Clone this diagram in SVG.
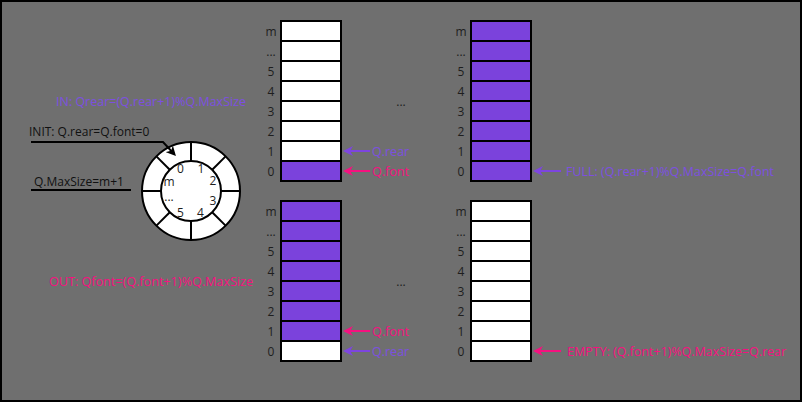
<svg xmlns="http://www.w3.org/2000/svg" width="802" height="402" viewBox="0 0 802 402">
<defs>
<style>
text{font-family:"Open Sans","Noto Sans","DejaVu Sans",sans-serif;font-size:12px}
.lbl{fill:#1e1e1e;text-anchor:middle}
.blk{fill:#111}
.pur{fill:#7d4fe0}
.pnk{fill:#f5117f}
.big{font-size:12.5px}
.w{fill:#fff;stroke:#000;stroke-width:2}
.p{fill:#7b42dc;stroke:#000;stroke-width:2}
.ln{fill:none;stroke-width:2}
</style>
<marker id="mp" viewBox="0 0 10 10" refX="7" refY="5" markerWidth="10" markerHeight="10" markerUnits="userSpaceOnUse" orient="auto"><path d="M0,0 L10,5 L0,10 L3,5 Z" fill="#7d45e0"/></marker>
<marker id="mk" viewBox="0 0 10 10" refX="7" refY="5" markerWidth="10" markerHeight="10" markerUnits="userSpaceOnUse" orient="auto"><path d="M0,0 L10,5 L0,10 L3,5 Z" fill="#f5117f"/></marker>
<marker id="mb" viewBox="0 0 10 10" refX="7" refY="5" markerWidth="10" markerHeight="10" markerUnits="userSpaceOnUse" orient="auto"><path d="M0,0 L10,5 L0,10 L3,5 Z" fill="#000"/></marker>
</defs>
<rect x="1" y="1" width="800" height="400" fill="#6f6f6f" stroke="#000" stroke-width="2"/>

<g id="texts">
<text x="56" y="106" class="pur big" textLength="190" lengthAdjust="spacingAndGlyphs">IN: Qrear=(Q.rear+1)%Q.MaxSize</text>
<text x="29" y="136" class="blk">INIT: Q.rear=Q.font=0</text>
<text x="34" y="186" class="blk">Q.MaxSize=m+1</text>
<text x="49" y="286" class="pnk big" textLength="204" lengthAdjust="spacingAndGlyphs">OUT: Qfont=(Q.font+1)%Q.MaxSize</text>
<text x="401" y="106" class="lbl">...</text>
<text x="401" y="286" class="lbl">...</text>
</g>

<g id="ring">
<circle cx="191" cy="191" r="49" class="w"/>
<circle cx="191" cy="191" r="30" class="w"/>
<g stroke="#000" stroke-width="2">
<line x1="221" y1="191" x2="240" y2="191"/>
<line x1="191" y1="221" x2="191" y2="240"/>
<line x1="161" y1="191" x2="142" y2="191"/>
<line x1="191" y1="161" x2="191" y2="142"/>
<line x1="212.2" y1="212.2" x2="225.6" y2="225.6"/>
<line x1="169.8" y1="212.2" x2="156.4" y2="225.6"/>
<line x1="169.8" y1="169.8" x2="156.4" y2="156.4"/>
<line x1="212.2" y1="169.8" x2="225.6" y2="156.4"/>
</g>
<text x="180.5" y="173" class="lbl">0</text>
<text x="201" y="173" class="lbl">1</text>
<text x="213" y="185" class="lbl">2</text>
<text x="169" y="185.5" class="lbl">m</text>
<text x="213" y="205" class="lbl">3</text>
<text x="169" y="201" class="lbl">...</text>
<text x="180.5" y="217" class="lbl">5</text>
<text x="200.5" y="217" class="lbl">4</text>
</g>

<g id="queue-in">
<rect x="281" y="21" width="60" height="20" class="w"/>
<rect x="281" y="41" width="60" height="20" class="w"/>
<rect x="281" y="61" width="60" height="20" class="w"/>
<rect x="281" y="81" width="60" height="20" class="w"/>
<rect x="281" y="101" width="60" height="20" class="w"/>
<rect x="281" y="121" width="60" height="20" class="w"/>
<rect x="281" y="141" width="60" height="20" class="w"/>
<rect x="281" y="161" width="60" height="20" class="p"/>
<text x="271" y="35.5" class="lbl">m</text>
<text x="271" y="55.5" class="lbl">...</text>
<text x="271" y="75.5" class="lbl">5</text>
<text x="271" y="95.5" class="lbl">4</text>
<text x="271" y="115.5" class="lbl">3</text>
<text x="271" y="135.5" class="lbl">2</text>
<text x="271" y="155.5" class="lbl">1</text>
<text x="271" y="175.5" class="lbl">0</text>
<text x="372" y="155.5" class="pur big">Q.rear</text>
<text x="372" y="175.5" class="pnk big">Q.font</text>
</g>

<g id="queue-full">
<rect x="471" y="21" width="60" height="20" class="p"/>
<rect x="471" y="41" width="60" height="20" class="p"/>
<rect x="471" y="61" width="60" height="20" class="p"/>
<rect x="471" y="81" width="60" height="20" class="p"/>
<rect x="471" y="101" width="60" height="20" class="p"/>
<rect x="471" y="121" width="60" height="20" class="p"/>
<rect x="471" y="141" width="60" height="20" class="p"/>
<rect x="471" y="161" width="60" height="20" class="p"/>
<text x="461" y="35.5" class="lbl">m</text>
<text x="461" y="55.5" class="lbl">...</text>
<text x="461" y="75.5" class="lbl">5</text>
<text x="461" y="95.5" class="lbl">4</text>
<text x="461" y="115.5" class="lbl">3</text>
<text x="461" y="135.5" class="lbl">2</text>
<text x="461" y="155.5" class="lbl">1</text>
<text x="461" y="175.5" class="lbl">0</text>
<text x="566" y="175.5" class="pur big" textLength="208" lengthAdjust="spacingAndGlyphs">FULL: (Q.rear+1)%Q.MaxSize=Q.font</text>
</g>

<g id="queue-out">
<rect x="281" y="201" width="60" height="20" class="p"/>
<rect x="281" y="221" width="60" height="20" class="p"/>
<rect x="281" y="241" width="60" height="20" class="p"/>
<rect x="281" y="261" width="60" height="20" class="p"/>
<rect x="281" y="281" width="60" height="20" class="p"/>
<rect x="281" y="301" width="60" height="20" class="p"/>
<rect x="281" y="321" width="60" height="20" class="p"/>
<rect x="281" y="341" width="60" height="20" class="w"/>
<text x="271" y="215.5" class="lbl">m</text>
<text x="271" y="235.5" class="lbl">...</text>
<text x="271" y="255.5" class="lbl">5</text>
<text x="271" y="275.5" class="lbl">4</text>
<text x="271" y="295.5" class="lbl">3</text>
<text x="271" y="315.5" class="lbl">2</text>
<text x="271" y="335.5" class="lbl">1</text>
<text x="271" y="355.5" class="lbl">0</text>
<text x="372" y="335.5" class="pnk big">Q.font</text>
<text x="372" y="355.5" class="pur big">Q.rear</text>
</g>

<g id="queue-empty">
<rect x="471" y="201" width="60" height="20" class="w"/>
<rect x="471" y="221" width="60" height="20" class="w"/>
<rect x="471" y="241" width="60" height="20" class="w"/>
<rect x="471" y="261" width="60" height="20" class="w"/>
<rect x="471" y="281" width="60" height="20" class="w"/>
<rect x="471" y="301" width="60" height="20" class="w"/>
<rect x="471" y="321" width="60" height="20" class="w"/>
<rect x="471" y="341" width="60" height="20" class="w"/>
<text x="461" y="215.5" class="lbl">m</text>
<text x="461" y="235.5" class="lbl">...</text>
<text x="461" y="255.5" class="lbl">5</text>
<text x="461" y="275.5" class="lbl">4</text>
<text x="461" y="295.5" class="lbl">3</text>
<text x="461" y="315.5" class="lbl">2</text>
<text x="461" y="335.5" class="lbl">1</text>
<text x="461" y="355.5" class="lbl">0</text>
<text x="567" y="355.5" class="pnk big" textLength="219" lengthAdjust="spacingAndGlyphs">EMPTY: (Q.font+1)%Q.MaxSize=Q.rear</text>
</g>

<g id="connectors">
<path d="M31,142 H163 L173.9,153.8" class="ln" stroke="#000" marker-end="url(#mb)"/>
<path d="M31,190 H131" class="ln" stroke="#000"/>
<path d="M370,151 H346" class="ln" stroke="#7d45e0" marker-end="url(#mp)"/>
<path d="M370,171 H346" class="ln" stroke="#f5117f" marker-end="url(#mk)"/>
<path d="M561,171 H536" class="ln" stroke="#7d45e0" marker-end="url(#mp)"/>
<path d="M370,331 H346" class="ln" stroke="#f5117f" marker-end="url(#mk)"/>
<path d="M370,351 H346" class="ln" stroke="#7d45e0" marker-end="url(#mp)"/>
<path d="M561,351 H536" class="ln" stroke="#f5117f" marker-end="url(#mk)"/>
</g>
</svg>
